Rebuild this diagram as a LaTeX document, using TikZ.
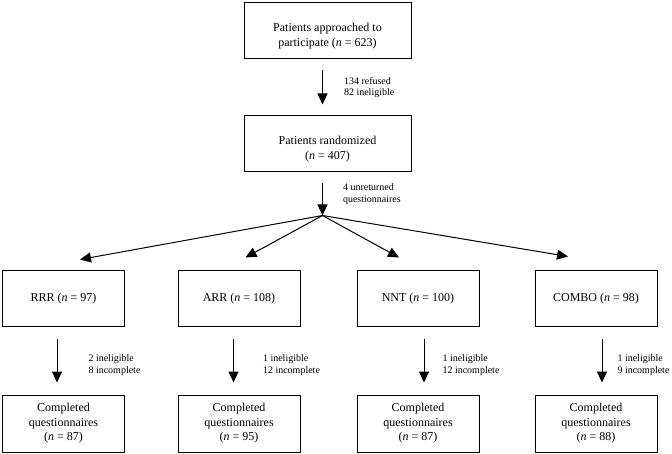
\documentclass[tikz,border=0pt]{standalone}
\usepackage{fontspec}
\setmainfont{Liberation Serif}
\usepackage{tikz}
\usetikzlibrary{arrows.meta, positioning}

\begin{document}
\begin{tikzpicture}[
    x=1pt, y=1pt,
    mainbox/.style={rectangle, draw, line width=1pt, minimum width=167pt, minimum height=56pt, align=center, font=\fontsize{12}{14.5}\selectfont},
    groupbox/.style={rectangle, draw, line width=1pt, minimum width=122pt, minimum height=56pt, align=center, font=\fontsize{12}{14.5}\selectfont},
    donebox/.style={groupbox, minimum height=57pt},
    note/.style={align=left, inner sep=0pt, font=\fontsize{10}{11.5}\selectfont},
    arrow/.style={-{Triangle[length=11pt, width=10pt]}, line width=1pt}
]
    \useasboundingbox (0,0) rectangle (672,-454);

    % Enrolment
    \node[mainbox] (approached) at (327.5,-31) {\rule{0pt}{19pt}Patients approached to\\participate (\textit{n} = 623)};
    \node[mainbox, below=56pt of approached] (randomized) {\rule{0pt}{19pt}Patients randomized\\(\textit{n} = 407)};

    % Randomized groups
    \node[groupbox] (rrr) at (63.5,-299) {RRR (\textit{n} = 97)};
    \node[groupbox, right=52.5pt of rrr] (arr) {ARR (\textit{n} = 108)};
    \node[groupbox, right=56pt of arr] (nnt) {NNT (\textit{n} = 100)};
    \node[groupbox, right=55pt of nnt] (combo) {COMBO (\textit{n} = 98)};

    % Completed questionnaires
    \node[donebox, below=67pt of rrr] (donerrr) {Completed\\questionnaires\\(\textit{n} = 87)};
    \node[donebox, below=67pt of arr] (donearr) {Completed\\questionnaires\\(\textit{n} = 95)};
    \node[donebox, below=67pt of nnt] (donennt) {Completed\\questionnaires\\(\textit{n} = 87)};
    \node[donebox, below=67pt of combo] (donecombo) {Completed\\questionnaires\\(\textit{n} = 88)};

    % Arrows - enrolment
    \draw[arrow, shorten <=11pt, shorten >=11pt] ([xshift=-5pt]approached.south) -- ([xshift=-5pt]randomized.north)
        node[note, midway, right=21pt] {134 refused\\82 ineligible};
    \coordinate (split) at ([xshift=-5pt, yshift=-43pt]randomized.south);
    \draw[arrow, shorten <=11pt] ([xshift=-5pt]randomized.south) -- (split)
        node[note, midway, right=20pt] {4 unreturned\\questionnaires};

    % Arrows - allocation
    \foreach \g/\dx/\dy in {rrr/16.5/11, arr/6.5/13, nnt/-19/13, combo/-28/14}
        \draw[arrow] (split) -- ([xshift=\dx pt, yshift=\dy pt]\g.north);

    % Arrows - follow-up
    \foreach \g/\dx/\gap/\txt in {rrr/-6.5/31/{2 ineligible\\8 incomplete}, arr/-5.5/29/{1 ineligible\\12 incomplete},
        nnt/6/18/{1 ineligible\\12 incomplete}, combo/6/15/{1 ineligible\\9 incomplete}}
        \draw[arrow, shorten <=11pt, shorten >=12pt] ([xshift=\dx pt]\g.south) -- ([xshift=\dx pt]done\g.north)
            node[note, midway, right=\gap pt, yshift=-4pt] {\txt};

\end{tikzpicture}
\end{document}
